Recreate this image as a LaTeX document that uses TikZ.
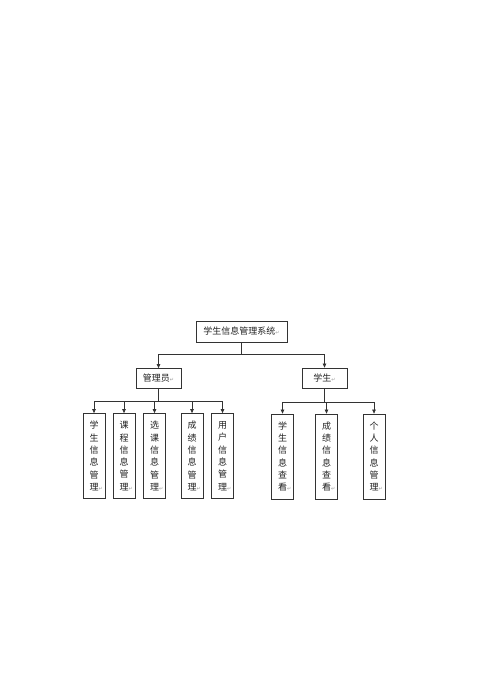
\documentclass[tikz,border=0pt]{standalone}
\usepackage{fontspec}
\newfontfamily\cjk{Noto Sans CJK SC}
\newfontfamily\symfont{DejaVu Sans}
\usepackage{xcolor}
\definecolor{textdark}{HTML}{222222}
\definecolor{boxline}{HTML}{333333}
\definecolor{markgray}{HTML}{9A9A9A}
\usetikzlibrary{arrows.meta,positioning}
\newcommand{\retmark}{{\symfont\color{markgray}\fontsize{5}{5}\selectfont ↵}}

\begin{document}
\begin{tikzpicture}[x=1pt, y=-1pt,
    sysbox/.style={draw=boxline, line width=0.8pt, inner sep=0pt, minimum width=91pt, minimum height=21pt, font=\cjk\fontsize{9}{11}\selectfont, text=textdark},
    rolebox/.style={draw=boxline, line width=0.8pt, inner sep=0pt, minimum width=45pt, minimum height=20pt, font=\cjk\fontsize{9}{11}\selectfont, text=textdark},
    leafbox/.style={draw=boxline, line width=0.8pt, inner sep=0pt, minimum width=22pt, minimum height=85pt, align=center, font=\cjk\fontsize{9}{12.3}\selectfont, text=textdark},
    arr/.style={draw=boxline, line width=0.7pt, -{Triangle[length=4pt, width=3.6pt]}}]
  \useasboundingbox (0,0) rectangle (490,698);
  \fill[white] (0,0) rectangle (490,698);

  % top level
  \node[sysbox] (sys) at (241.5,331.5) {学生信息管理系统\retmark};
  \node[rolebox] (admin) at (158.5,378.5) {管理员\retmark};
  \node[rolebox] (stu) at (324.5,378) {学生\retmark};

  % admin side
  \node[leafbox] (a1) at (94,456) {学\\生\\信\\息\\管\\理\rlap{\retmark}};
  \node[leafbox] (a2) at (124,456) {课\\程\\信\\息\\管\\理\rlap{\retmark}};
  \node[leafbox] (a3) at (154.5,456) {选\\课\\信\\息\\管\\理\rlap{\retmark}};
  \node[leafbox] (a4) at (192,456) {成\\绩\\信\\息\\管\\理\rlap{\retmark}};
  \node[leafbox] (a5) at (222.5,456) {用\\户\\信\\息\\管\\理\rlap{\retmark}};

  % student side
  \node[leafbox] (s1) at (282.5,456.5) {学\\生\\信\\息\\查\\看\rlap{\retmark}};
  \node[leafbox] (s2) at (326.5,456.5) {成\\绩\\信\\息\\查\\看\rlap{\retmark}};
  \node[leafbox] (s3) at (374,456.5) {个\\人\\信\\息\\管\\理\rlap{\retmark}};

  % connectors
  \draw[arr] (sys.south) -- ++(0,12) -| (admin.north);
  \draw[arr] (sys.south) ++(0,12) -| (stu.north);
  \foreach \c in {a1,a2,a3,a4,a5}
    \draw[arr] (admin.south) -- ++(0,12) -| (\c.north);
  \foreach \c in {s1,s2,s3}
    \draw[arr] (stu.south) -- ++(0,14) -| (\c.north);
\end{tikzpicture}
\end{document}
